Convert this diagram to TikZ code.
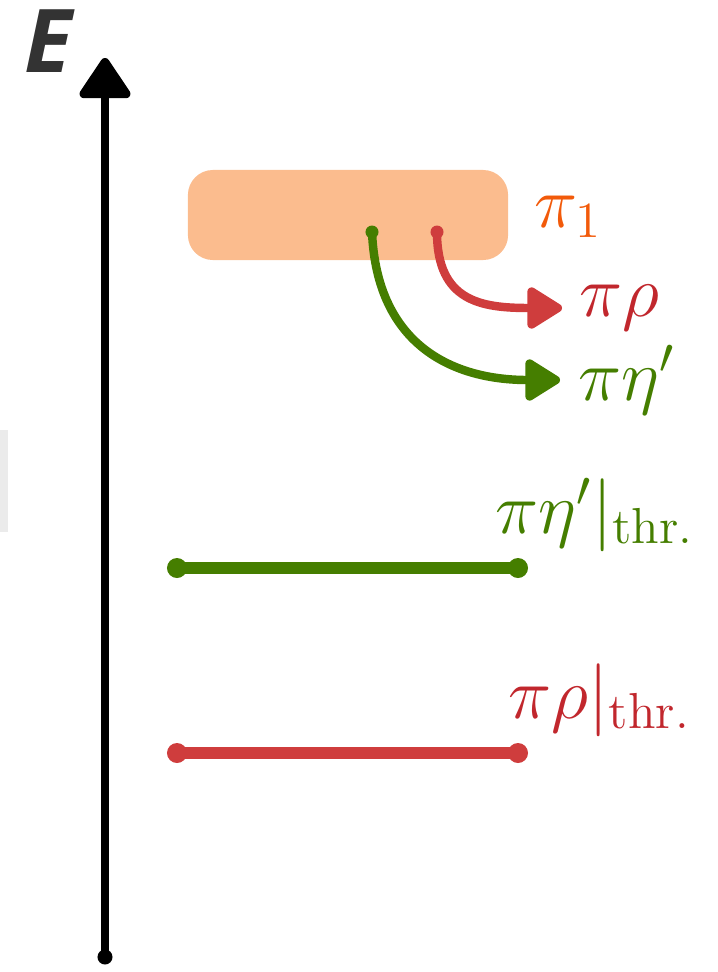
\documentclass[tikz,border=0pt]{standalone}
\usepackage{fontspec}
\newfontfamily\axisfont{Open Sans}
\usetikzlibrary{positioning, arrows.meta, calc}
\definecolor{boxorange}{HTML}{FBBC8E}
\definecolor{pioneorange}{HTML}{F25A0A}
\definecolor{rhored}{HTML}{CF3D3D}
\definecolor{rhotext}{HTML}{C1272D}
\definecolor{etagreen}{HTML}{457E00}
\definecolor{axisgray}{HTML}{333333}
\definecolor{sidegray}{HTML}{EBEBEB}

\tikzset{
  declabel/.style={inner sep=0pt, font=\huge},
  decay/.style={line width=2.4pt, line cap=round, -{Triangle[width=13pt,length=11pt,round]}},
  threshold/.style={line width=3.6pt, line cap=round},
}

\begin{document}
\begin{tikzpicture}[x=0.01cm, y=-0.01cm]
  \useasboundingbox (0,0) rectangle (717,972);
  \fill[sidegray] (0,430) rectangle (8,532);

  % energy axis
  \coordinate (axisbot) at (105,957);
  \coordinate (axistop) at (105,58);
  \fill (axisbot) circle[radius=0.075cm];
  \draw[line width=2.5pt, -{Triangle[width=16pt,length=12.5pt,round]}] (axisbot) -- (axistop);
  \node[anchor=base west, inner sep=0pt, text=axisgray,
        font=\axisfont\bfseries\itshape\fontsize{25}{30}\selectfont] (elabel) at (24,72) {E};

  % pi_1 box
  \node[fill=boxorange, rounded corners=0.25cm, minimum width=3.2cm,
        minimum height=0.9cm, inner sep=0pt] (pione) at (348,215) {};
  \node[declabel, text=pioneorange, anchor=base west] (pionelabel) at (534,227) {$\pi_1$};

  % decay channels
  \coordinate (rhostart) at (437,232);
  \coordinate (etastart) at (372,232);
  \node[declabel, text=rhotext, anchor=west, inner xsep=0.17cm] (rho) at (562,308) {$\pi\rho$};
  \node[declabel, text=etagreen, anchor=west, inner xsep=0.18cm] (eta) at (560,380) {$\pi\eta'$};
  \fill[rhored] (rhostart) circle[radius=0.065cm];
  \draw[decay, rhored] (rhostart) .. controls +(0,70) and +(-80,0) .. (rho.west);
  \fill[etagreen] (etastart) circle[radius=0.065cm];
  \draw[decay, etagreen] (etastart) .. controls +(5,115) and +(-105,0) .. (eta.west);

  % thresholds
  \coordinate (etaleft) at (177,568);
  \coordinate (etaright) at (518,568);
  \draw[threshold, etagreen] (etaleft) -- (etaright);
  \fill[etagreen] (etaleft) circle[radius=0.1cm] (etaright) circle[radius=0.1cm];
  \node[declabel, text=etagreen, anchor=base west] (etathr) at (495,533) {$\pi\eta'|_{\mathrm{thr.}}$};

  \coordinate (rholeft) at (177,753);
  \coordinate (rhoright) at (518,753);
  \draw[threshold, rhored] (rholeft) -- (rhoright);
  \fill[rhored] (rholeft) circle[radius=0.1cm] (rhoright) circle[radius=0.1cm];
  \node[declabel, text=rhotext, anchor=base west] (rhothr) at (508,718) {$\pi\rho|_{\mathrm{thr.}}$};
\end{tikzpicture}
\end{document}
